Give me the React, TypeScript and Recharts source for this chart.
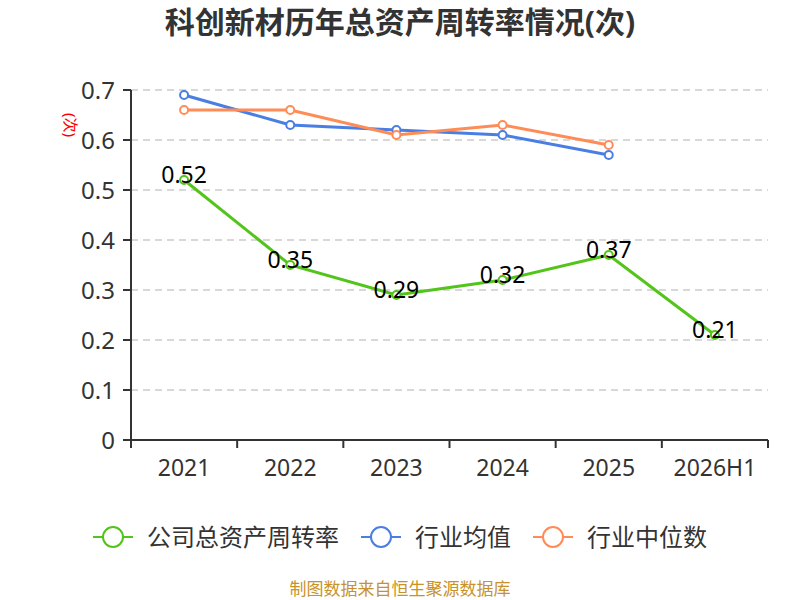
import { LineChart, Line, XAxis, YAxis, CartesianGrid, LabelList } from "recharts";

const years = ["2021", "2022", "2023", "2024", "2025", "2026H1"];
const company = [0.52, 0.35, 0.29, 0.32, 0.37, 0.21];
const industryAvg = [0.69, 0.63, 0.62, 0.61, 0.57];
const industryMedian = [0.66, 0.66, 0.61, 0.63, 0.59];
const yTicks = [0, 0.1, 0.2, 0.3, 0.4, 0.5, 0.6, 0.7];

const GREEN = "#52c41a";
const BLUE = "#4a7ee3";
const ORANGE = "#ff8c57";
const FONT = '"Noto Sans", "Noto Sans CJK SC", sans-serif';

const W = 800;
const H = 600;
const MARGIN = { top: 90, right: 32, bottom: 120, left: 0 };
const Y_WIDTH = 131;
const BAND = (W - MARGIN.right - Y_WIDTH) / years.length;

const data = years.map((y, i) => ({
  x: i + 0.5,
  year: y,
  company: company[i],
  avg: industryAvg[i],
  median: industryMedian[i],
}));

const legendItems = [
  { name: "公司总资产周转率", color: GREEN },
  { name: "行业均值", color: BLUE },
  { name: "行业中位数", color: ORANGE },
];

function YearTick(props: any) {
  const { x, y, payload } = props;
  const label = years[payload.value];
  if (!label) return <g />;
  return (
    <text x={x + BAND / 2} y={y + 26} textAnchor="middle" fontSize={23} fill="#333" fontFamily={FONT}>
      {label}
    </text>
  );
}

function ValueLabel(props: any) {
  const { x, y, value } = props;
  return (
    <text x={x} y={y - 3} textAnchor="middle" dominantBaseline="middle" fontSize={23} fill="#000" fontFamily={FONT}>
      {value}
    </text>
  );
}

function UnitLabel(props: any) {
  const { viewBox } = props;
  const cx = viewBox.x + 69;
  const cy = viewBox.y + 35;
  return (
    <text x={cx} y={cy} transform={`rotate(90 ${cx} ${cy})`} textAnchor="middle" dominantBaseline="middle" fontSize={15} fill="#ff0000" fontFamily={FONT}>
      (次)
    </text>
  );
}

function ChartLegend() {
  return (
    <div style={{ position: "absolute", top: 522, left: 0, width: W, display: "flex", justifyContent: "center", alignItems: "center", gap: 22 }}>
      {legendItems.map((it) => (
        <div key={it.name} style={{ display: "flex", alignItems: "center", gap: 14 }}>
          <svg width={40} height={24}>
            <line x1={0} y1={12} x2={40} y2={12} stroke={it.color} strokeWidth={2} />
            <circle cx={20} cy={12} r={10} fill="#fff" stroke={it.color} strokeWidth={2} />
          </svg>
          <span style={{ fontSize: 24, color: "#333", lineHeight: "30px" }}>{it.name}</span>
        </div>
      ))}
    </div>
  );
}

export default function App() {
  const dot = (color: string) => ({ r: 4, fill: "#fff", stroke: color, strokeWidth: 2 });
  return (
    <div style={{ position: "absolute", left: 0, top: 0, width: W, height: H, background: "#fff", fontFamily: FONT }}>
      <div style={{ position: "absolute", top: 3, left: 0, width: W, textAlign: "center", fontSize: 30, fontWeight: "bold", color: "#333", lineHeight: "38px" }}>
        科创新材历年总资产周转率情况(次)
      </div>
      <LineChart width={W} height={H} data={data} margin={MARGIN}>
        <CartesianGrid vertical={false} stroke="#ccc" strokeDasharray="7 5" strokeWidth={1.5} />
        <XAxis
          type="number"
          dataKey="x"
          domain={[0, years.length]}
          ticks={years.map((_, i) => i).concat(years.length)}
          tick={<YearTick />}
          tickSize={8}
          height={40}
          stroke="#333"
          strokeWidth={2}
          interval={0}
        />
        <YAxis
          width={Y_WIDTH}
          domain={[0, 0.7]}
          ticks={yTicks}
          tickFormatter={(v: number) => (v === 0 ? "0" : v.toFixed(1))}
          tick={{ fontSize: 24, fill: "#333", fontFamily: FONT }}
          tickSize={8}
          tickMargin={8}
          stroke="#333"
          strokeWidth={2}
          label={<UnitLabel />}
        />
        <Line dataKey="avg" stroke={BLUE} strokeWidth={3} dot={dot(BLUE)} activeDot={false} isAnimationActive={false} />
        <Line dataKey="median" stroke={ORANGE} strokeWidth={3} dot={dot(ORANGE)} activeDot={false} isAnimationActive={false} />
        <Line dataKey="company" stroke={GREEN} strokeWidth={3} dot={dot(GREEN)} activeDot={false} isAnimationActive={false}>
          <LabelList dataKey="company" content={<ValueLabel />} />
        </Line>
      </LineChart>
      <ChartLegend />
      <div style={{ position: "absolute", top: 579, left: 0, width: W, textAlign: "center", fontSize: 17, lineHeight: "20px", color: "#c8922a" }}>
        制图数据来自恒生聚源数据库
      </div>
    </div>
  );
}
